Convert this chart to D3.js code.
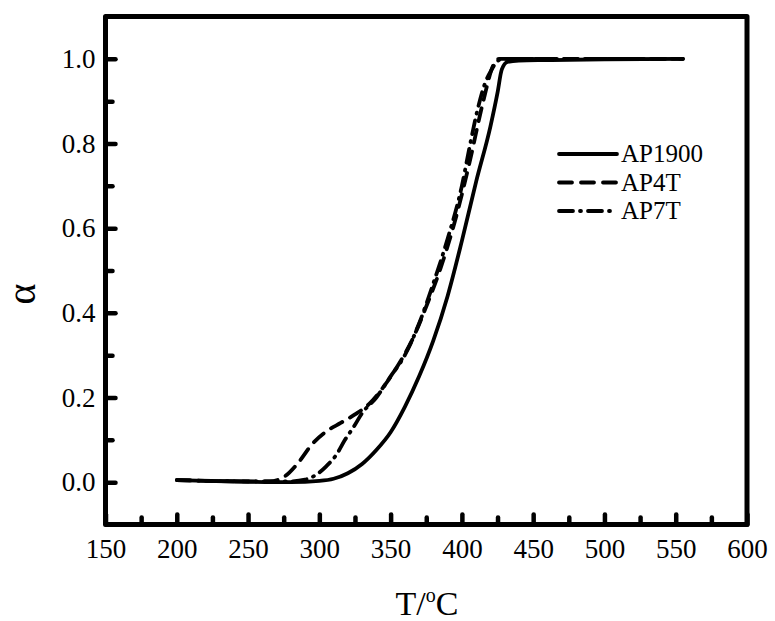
<!DOCTYPE html>
<html>
  <head>
  <title>Conversion curves</title>
  <style>
    body, html {
      margin: 0;
      padding: 0;
      background: #fff;
    }
    text {
      font-family: 'Liberation Serif', 'DejaVu Serif', serif;
    }
  </style>
  </head>
  <body>

  <svg id="svg" width="775" height="621"></svg>
  <script src="https://d3js.org/d3.v7.min.js"></script>
  <script>
      // values
      const seriesNames = ['AP1900', 'AP4T', 'AP7T']
      const ap1900T = [200, 220, 250, 280, 300, 310, 320, 330, 340, 350, 360, 370, 380, 390, 400, 410, 420, 425, 428, 432, 440, 460, 500, 555]
      const ap1900A = [0.005, 0.003, 0.001, 0.0, 0.003, 0.008, 0.021, 0.043, 0.076, 0.118, 0.178, 0.25, 0.335, 0.44, 0.57, 0.71, 0.84, 0.92, 0.975, 0.993, 0.996, 0.997, 0.999, 1.0]
      const ap4tT = [200, 250, 265, 275, 285, 295, 305, 315, 325, 335, 345, 355, 365, 375, 385, 395, 405, 415, 422, 426, 450, 500, 555]
      const ap4tA = [0.005, 0.002, 0.002, 0.012, 0.045, 0.09, 0.12, 0.14, 0.16, 0.185, 0.225, 0.275, 0.335, 0.415, 0.505, 0.615, 0.75, 0.9, 0.985, 1.0, 1.0, 1.0, 1.0]
      const ap7tT = [200, 250, 280, 290, 298, 305, 312, 318, 324, 330, 340, 350, 360, 370, 380, 390, 400, 405, 411, 416, 421, 425, 430, 500, 555]
      const ap7tA = [0.005, 0.002, 0.002, 0.006, 0.018, 0.038, 0.065, 0.1, 0.13, 0.163, 0.2, 0.25, 0.3, 0.375, 0.47, 0.575, 0.7, 0.785, 0.88, 0.94, 0.975, 0.995, 1.0, 1.0, 1.0]
      const xMajor = [150, 200, 250, 300, 350, 400, 450, 500, 550, 600]
      const xMinor = [175, 225, 275, 325, 375, 425, 475, 525, 575]
      const yMajor = [0.0, 0.2, 0.4, 0.6, 0.8, 1.0]
      const yMinor = [0.1, 0.3, 0.5, 0.7, 0.9]

      const plotLeft = 105.5, plotRight = 747, plotTop = 16.5, plotBottom = 524.5
      const font = 'Liberation Serif, DejaVu Serif, serif'

      const x = d3.scaleLinear().domain([150, 600]).range([plotLeft, plotRight])
      const y = d3.scaleLinear().domain([-0.1, 1.1]).range([plotBottom, plotTop])

      const svg = d3.select('#svg')

      const series = [
        { name: seriesNames[0], t: ap1900T, a: ap1900A, dash: null },
        { name: seriesNames[1], t: ap4tT, a: ap4tA, dash: '13,9' },
        { name: seriesNames[2], t: ap7tT, a: ap7tA, dash: '14,7,1,7' }
      ]

      const line = d3.line()
          .x(d => x(d[0]))
          .y(d => y(d[1]))
          .curve(d3.curveMonotoneX)

      svg.append('g')
          .selectAll('path')
          .data(series)
          .join('path')
          .attr('d', d => line(d.t.map((t, i) => [t, d.a[i]])))
          .attr('fill', 'none')
          .attr('stroke', '#000')
          .attr('stroke-width', 3.8)
          .attr('stroke-linecap', 'round')
          .attr('stroke-dasharray', d => d.dash)

      // axes with inward ticks
      const styleAxis = (g, w) => {
        g.attr('font-family', font)
        g.select('.domain').remove()
        g.selectAll('.tick line')
            .attr('stroke', '#000')
            .attr('stroke-width', w)
            .attr('stroke-linecap', 'round')
        g.selectAll('.tick text')
            .attr('fill', '#000')
            .attr('font-size', 27)
      }

      svg.append('g')
          .attr('transform', `translate(0,${plotBottom})`)
          .call(d3.axisBottom(x).tickValues(xMinor).tickSize(-7).tickFormat(''))
          .call(g => styleAxis(g, 4.5))
      svg.append('g')
          .attr('transform', `translate(0,${plotBottom})`)
          .call(d3.axisBottom(x).tickValues(xMajor).tickSize(-10).tickPadding(14).tickFormat(d3.format('d')))
          .call(g => styleAxis(g, 4.5))

      svg.append('g')
          .attr('transform', `translate(${plotLeft},0)`)
          .call(d3.axisLeft(y).tickValues(yMinor).tickSize(-7).tickFormat(''))
          .call(g => styleAxis(g, 4.5))
      svg.append('g')
          .attr('transform', `translate(${plotLeft},0)`)
          .call(d3.axisLeft(y).tickValues(yMajor).tickSize(-10).tickPadding(10).tickFormat(d3.format('.1f')))
          .call(g => styleAxis(g, 4.5))

      // frame
      svg.append('rect')
          .attr('x', plotLeft)
          .attr('y', plotTop)
          .attr('width', plotRight - plotLeft)
          .attr('height', plotBottom - plotTop)
          .attr('fill', 'none')
          .attr('stroke', '#000')
          .attr('stroke-width', 5)
          .attr('stroke-linejoin', 'round')

      // axis titles
      const xt = svg.append('text')
          .attr('x', 427)
          .attr('y', 615)
          .attr('text-anchor', 'middle')
          .attr('font-size', 34)
      xt.append('tspan').text('T/')
      xt.append('tspan').text('o').attr('dy', -13).attr('font-size', 20)
      xt.append('tspan').text('C').attr('dy', 13)

      svg.append('text')
          .attr('transform', 'translate(35,294) rotate(-90)')
          .attr('text-anchor', 'middle')
          .attr('font-size', 40)
          .text('α')

      // legend
      const legend = svg.append('g')
          .selectAll('g')
          .data(series)
          .join('g')
          .attr('transform', (d, i) => `translate(559,${154 + i * 28.5})`)
      legend.append('line')
          .attr('x1', 0)
          .attr('x2', 58)
          .attr('stroke', '#000')
          .attr('stroke-width', 3.8)
          .attr('stroke-linecap', 'round')
          .attr('stroke-dasharray', d => d.dash)
      legend.append('text')
          .attr('x', 62)
          .attr('y', 8)
          .attr('font-size', 25)
          .text(d => d.name)
  </script>
</body>
</html>
